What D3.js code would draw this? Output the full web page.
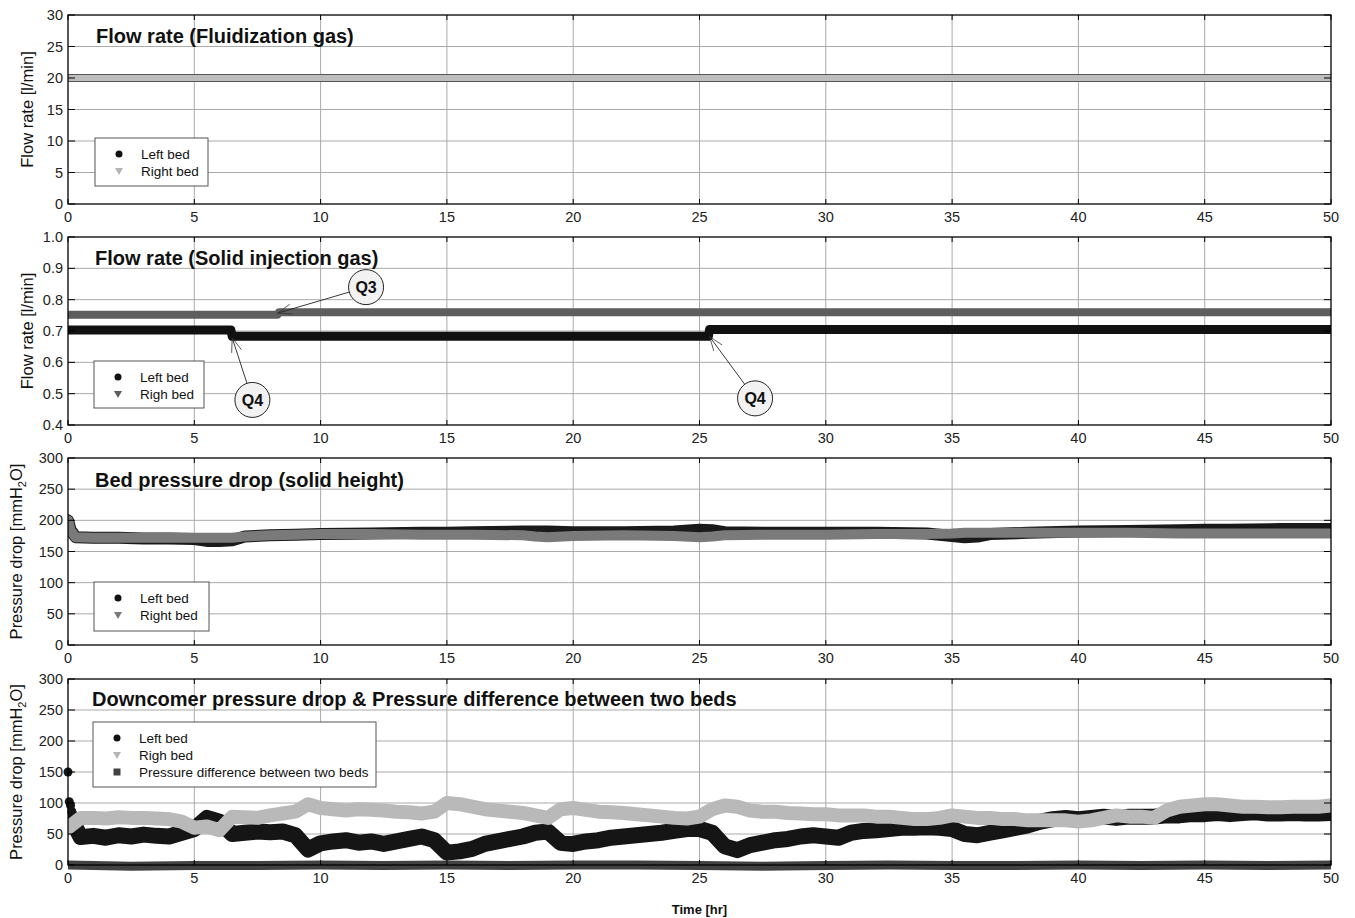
<!DOCTYPE html>
<html><head><meta charset="utf-8">
<script src="https://cdn.jsdelivr.net/npm/d3@7"></script>
<style>
body{margin:0;background:#fff;}
svg{font-family:"Liberation Sans",Arial,sans-serif;}
</style></head>
<body>
<svg id="c" width="1355" height="918"></svg>
<script>
// ---------- DATA ----------
const xTicks = [0,5,10,15,20,25,30,35,40,45,50];

// Panel 1: fluidization gas flow rate
const p1Time = [0,10,20,30,40,50];
const p1Left = [20,20,20,20,20,20];
const p1Right = [20,20,20,20,20,20];
const p1YTicks = [0,5,10,15,20,25,30];

// Panel 2: solid injection gas flow rate
const p2LeftTime = [0,6.45,6.5,25.35,25.4,50];
const p2LeftVal  = [0.703,0.703,0.683,0.683,0.705,0.705];
const p2RightTime = [0,8.3,8.35,50];
const p2RightVal  = [0.752,0.752,0.760,0.760];
const p2YTicks = [0.4,0.5,0.6,0.7,0.8,0.9,1.0];
const annotLabels = ["Q3","Q4","Q4"];
const annotTargetT = [8.3,6.5,25.4];
const annotTargetV = [0.757,0.678,0.682];
const annotCircleT = [11.8,7.3,27.2];
const annotCircleV = [0.84,0.48,0.485];

// Panel 3: bed pressure drop
const p3Time  = [0,0.1,0.3,1,2,3,4,5,5.5,6,6.5,7,8,9,10,12,14,15,16,18,18.5,19,20,22,24,25,25.5,26,28,30,32,34,35,35.5,36,36.5,38,40,42,44,45,46,48,50];
const p3Left  = [200,185,173,172,172,171,171,170,167,167,168,174,176,177,178,179,180,180,181,182,182,182,181,181,182,185,184,181,180,180,180,179,175,173,174,178,180,182,183,184,185,185,186,186];
const p3Right = [200,184,173,172,172,172,172,172,172,172,172,174,176,177,178,178,177,177,177,176,174,173,175,176,175,173,174,176,177,177,178,178,179,180,180,180,180,180,180,179,179,179,179,179];
const p3YTicks = [0,50,100,150,200,250,300];

// Panel 4: downcomer pressure drop (values every 0.5 hr from 0 to 50)
const p4Left = [85,45,47,44,48,46,49,47,46,52,58,76,70,50,52,54,53,54,48,25,
  35,38,40,36,38,34,38,42,46,40,20,22,26,34,38,42,46,52,54,36,
  34,38,40,44,46,48,50,52,55,58,58,52,30,24,32,36,40,42,46,48,
  46,44,52,55,56,58,60,60,61,60,58,50,48,52,56,60,64,70,74,76,
  74,76,78,76,78,78,78,80,80,82,82,84,82,84,85,83,83,84,83,83,84];
const p4Right = [60,76,76,75,77,76,76,75,74,70,60,62,56,78,77,76,80,83,86,98,
  92,90,88,90,89,88,86,85,83,86,100,98,94,90,88,86,84,80,76,90,
  92,89,86,85,84,82,80,78,76,75,78,90,96,94,88,86,86,84,83,82,
  82,80,80,80,78,78,76,74,74,76,80,78,76,76,74,74,72,72,72,72,
  70,72,76,80,78,78,76,88,94,96,98,98,96,94,94,93,93,94,94,94,96];
const p4LeftStartT = [0,0.05,0.1,0.15,0.25];
const p4LeftStartV = [150,102,96,86,62];
const p4DiffTime = [0,2.5,5,7.5,10,12.5,15,17.5,20,22.5,25,27.5,30,32.5,35,37.5,40,42.5,45,47.5,50];
const p4Diff     = [0,-2,-1,-1,0,-1,0,-1,0,0,-1,-2,-1,0,-1,-1,0,-1,0,-1,0];
const p4YTicks = [0,50,100,150,200,250,300];

// ---------- LAYOUT ----------
const svg = d3.select("#c");
const L = 68, R = 1331;
const panels = [
  {top:15, bottom:204, dom:[0,30], ticks:p1YTicks, fmt:d3.format("d"), ylabel:"Flow rate [l/min]", title:"Flow rate (Fluidization gas)", tx:96, ty:43},
  {top:237, bottom:425, dom:[0.4,1.0], ticks:p2YTicks, fmt:d3.format(".1f"), ylabel:"Flow rate [l/min]", title:"Flow rate (Solid injection gas)", tx:95, ty:265},
  {top:458, bottom:645, dom:[0,300], ticks:p3YTicks, fmt:d3.format("d"), ylabel:"P", title:"Bed pressure drop (solid height)", tx:95, ty:487},
  {top:679, bottom:865, dom:[0,300], ticks:p4YTicks, fmt:d3.format("d"), ylabel:"P", title:"Downcomer pressure drop & Pressure difference between two beds", tx:92, ty:706}
];
const x = d3.scaleLinear().domain([0,50]).range([L,R]);
const halfT = d3.range(0,50.001,0.5);

svg.append("defs").append("clipPath").attr("id","clipx")
  .append("rect").attr("x",L).attr("y",0).attr("width",R-L).attr("height",918);

panels.forEach((p,i)=>{
  p.y = d3.scaleLinear().domain(p.dom).range([p.bottom,p.top]);
  const g = svg.append("g");
  g.selectAll(".gx").data(xTicks.slice(1,-1)).join("line")
    .attr("x1",d=>x(d)).attr("x2",d=>x(d)).attr("y1",p.top).attr("y2",p.bottom)
    .attr("stroke","#aaa").attr("stroke-width",1);
  g.selectAll(".gy").data(p.ticks.slice(1,-1)).join("line")
    .attr("x1",L).attr("x2",R).attr("y1",d=>p.y(d)).attr("y2",d=>p.y(d))
    .attr("stroke","#aaa").attr("stroke-width",1);
  p.g = g;
});

function line(xs, ys, yScale){
  return d3.line().x((d,i)=>x(xs[i])).y((d,i)=>yScale(ys[i]))(ys);
}
function drawLine(p, xs, ys, color, w){
  p.g.append("path").attr("d", line(xs,ys,p.y)).attr("fill","none")
    .attr("stroke",color).attr("stroke-width",w).attr("stroke-linejoin","round")
    .attr("stroke-linecap","round").attr("clip-path","url(#clipx)");
}

// Panel 1
drawLine(panels[0], p1Time, p1Left, "#555", 8);
drawLine(panels[0], p1Time, p1Right, "#bdbdbd", 6);

// Panel 2
drawLine(panels[1], p2RightTime, p2RightVal, "#5e5e5e", 8);
drawLine(panels[1], p2LeftTime, p2LeftVal, "#111", 9);

// Panel 3
drawLine(panels[2], p3Time, p3Left, "#1a1a1a", 12);
drawLine(panels[2], p3Time, p3Right, "#7a7a7a", 10);

// Panel 4
drawLine(panels[3], halfT, p4Left, "#151515", 16);
panels[3].g.selectAll(".ls").data(p4LeftStartV).join("circle")
  .attr("cx",(d,i)=>x(p4LeftStartT[i])).attr("cy",d=>panels[3].y(d)).attr("r",4.5).attr("fill","#151515");
drawLine(panels[3], halfT, p4Right, "#b9b9b9", 14);
drawLine(panels[3], p4DiffTime, p4Diff, "#424242", 9);

// frames, ticks, labels
panels.forEach((p,i)=>{
  const g = svg.append("g");
  g.append("rect").attr("x",L).attr("y",p.top).attr("width",R-L).attr("height",p.bottom-p.top)
    .attr("fill","none").attr("stroke","#000").attr("stroke-width",1.3);
  xTicks.forEach(t=>{
    g.append("line").attr("x1",x(t)).attr("x2",x(t)).attr("y1",p.top).attr("y2",p.top+5).attr("stroke","#000");
    g.append("line").attr("x1",x(t)).attr("x2",x(t)).attr("y1",p.bottom).attr("y2",p.bottom-5).attr("stroke","#000");
  });
  p.ticks.forEach(t=>{
    g.append("line").attr("x1",L).attr("x2",L+7).attr("y1",p.y(t)).attr("y2",p.y(t)).attr("stroke","#000");
    g.append("line").attr("x1",R).attr("x2",R-7).attr("y1",p.y(t)).attr("y2",p.y(t)).attr("stroke","#000");
  });
  g.selectAll(".yt").data(p.ticks).join("text")
    .attr("x",L-5).attr("y",d=>p.y(d)+5).attr("text-anchor","end")
    .attr("font-size",14.5).attr("fill","#222").text(d=>p.fmt(d));
  g.selectAll(".xt").data(xTicks).join("text")
    .attr("x",d=>x(d)).attr("y",p.bottom+18).attr("text-anchor","middle")
    .attr("font-size",14.5).attr("fill","#222").text(d=>d);
  g.append("text").attr("x",p.tx).attr("y",p.ty).attr("font-size",20).attr("font-weight","bold")
    .attr("fill","#111").text(p.title);
  const cy = (p.top+p.bottom)/2;
  const yl = g.append("text").attr("transform",`translate(${i<2?33:22},${cy}) rotate(-90)`)
    .attr("text-anchor","middle").attr("font-size",16.5).attr("fill","#111");
  if(i<2){ yl.text(p.ylabel); }
  else {
    yl.append("tspan").text("Pressure drop [mmH");
    yl.append("tspan").attr("font-size",11).attr("dy",4).text("2");
    yl.append("tspan").attr("dy",-4).text("O]");
  }
});

// legends
function legend(x0,y0,w,h,items){
  const g = svg.append("g");
  g.append("rect").attr("x",x0).attr("y",y0).attr("width",w).attr("height",h)
    .attr("fill","#fff").attr("stroke","#555").attr("stroke-width",1);
  items.forEach((it,k)=>{
    const yy = y0+16+k*17, mx = x0+24;
    if(it.shape==="circle") g.append("circle").attr("cx",mx).attr("cy",yy).attr("r",3.5).attr("fill",it.color);
    else if(it.shape==="tri") g.append("path").attr("d",`M${mx-4},${yy-3}L${mx+4},${yy-3}L${mx},${yy+4}Z`).attr("fill",it.color);
    else g.append("rect").attr("x",mx-3.5).attr("y",yy-3.5).attr("width",7).attr("height",7).attr("fill",it.color);
    g.append("text").attr("x",x0+46).attr("y",yy+5).attr("font-size",13.5).attr("fill","#111").text(it.label);
  });
}
legend(95,138,113,48,[{shape:"circle",color:"#111",label:"Left bed"},{shape:"tri",color:"#b5b5b5",label:"Right bed"}]);
legend(94,361,110,47,[{shape:"circle",color:"#111",label:"Left bed"},{shape:"tri",color:"#5e5e5e",label:"Righ bed"}]);
legend(94,582,115,49,[{shape:"circle",color:"#111",label:"Left bed"},{shape:"tri",color:"#7a7a7a",label:"Right bed"}]);
legend(93,722,283,65,[{shape:"circle",color:"#111",label:"Left bed"},{shape:"tri",color:"#b5b5b5",label:"Righ bed"},{shape:"square",color:"#424242",label:"Pressure difference between two beds"}]);

// annotations panel 2
const p2 = panels[1];
annotLabels.forEach((lab,k)=>{
  const tx = x(annotTargetT[k]), ty = p2.y(annotTargetV[k]);
  const cx = x(annotCircleT[k]), cy = p2.y(annotCircleV[k]);
  const r = 17.5;
  const ang = Math.atan2(ty-cy, tx-cx);
  const sx = cx + r*Math.cos(ang), sy = cy + r*Math.sin(ang);
  svg.append("line").attr("x1",sx).attr("y1",sy).attr("x2",tx).attr("y2",ty).attr("stroke","#222").attr("stroke-width",0.9);
  const back = Math.atan2(sy-ty, sx-tx);
  [0.35,-0.35].forEach(da=>{
    svg.append("line").attr("x1",tx).attr("y1",ty)
      .attr("x2",tx+15*Math.cos(back+da)).attr("y2",ty+15*Math.sin(back+da))
      .attr("stroke","#333").attr("stroke-width",0.8);
  });
  svg.append("circle").attr("cx",cx).attr("cy",cy).attr("r",r).attr("fill","#f2f2f2").attr("stroke","#222").attr("stroke-width",1);
  svg.append("text").attr("x",cx).attr("y",cy+6).attr("text-anchor","middle").attr("font-size",16)
    .attr("font-weight","bold").attr("fill","#111").text(lab);
});

svg.append("text").attr("x",(L+R)/2).attr("y",914).attr("text-anchor","middle")
  .attr("font-size",13).attr("font-weight","bold").attr("fill","#111").text("Time [hr]");
</script>
</body></html>
